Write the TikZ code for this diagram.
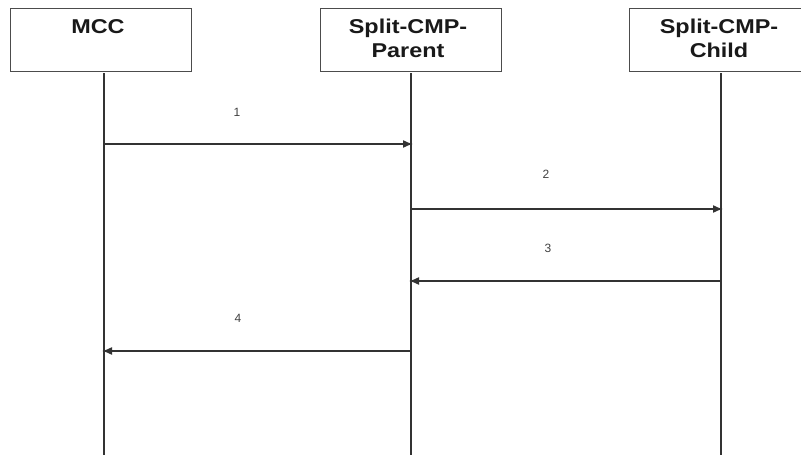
\documentclass[tikz,border=0pt]{standalone}
\usepackage{fontspec}
\usepackage{graphicx}
\setmainfont{Liberation Sans}
\usetikzlibrary{arrows.meta}
\newcommand{\widetext}[1]{\scalebox{1.17}[1]{#1}}
\begin{document}
\begin{tikzpicture}[x=1pt,y=-1pt,
  actorbox/.style={draw=black!70,line width=1.3pt,minimum width=181pt,minimum height=63pt,anchor=north west,inner sep=0pt},
  actortext/.style={font=\bfseries\fontsize{20}{22}\selectfont,text=black!90,align=center,anchor=base,inner sep=0pt},
  lifeline/.style={draw=black!80,line width=1.8pt},
  msg/.style={draw=black!80,line width=1.5pt,-{Latex[length=10pt,width=8pt]}},
  msglabel/.style={font=\fontsize{12}{13}\selectfont,text=black!75}]
\useasboundingbox (0,0) rectangle (801,455);
\node[actorbox] (mccbox) at (10,8) {};
\node[actorbox] (parbox) at (320,8) {};
\node[actorbox] (chbox) at (629,8) {};
\node[actortext] (mcct) at (98,34) {\widetext{MCC}};
\node[actortext] (part) at (408,34) {\widetext{Split-CMP-}};
\node[actortext] (part2) at (408,57) {\widetext{Parent}};
\node[actortext] (cht) at (719,34) {\widetext{Split-CMP-}};
\node[actortext] (cht2) at (719,57) {\widetext{Child}};
\coordinate (mtop) at (104,73);
\coordinate (mbot) at (104,455);
\coordinate (ptop) at (411,73);
\coordinate (pbot) at (411,455);
\coordinate (ctop) at (721,73);
\coordinate (cbot) at (721,455);
\draw[lifeline] (mtop) -- (mbot);
\draw[lifeline] (ptop) -- (pbot);
\draw[lifeline] (ctop) -- (cbot);
\coordinate (m1s) at (104,144);
\coordinate (m1e) at (413,144);
\coordinate (m2s) at (411,209);
\coordinate (m2e) at (723,209);
\coordinate (m3s) at (721,281);
\coordinate (m3e) at (409,281);
\coordinate (m4s) at (411,351);
\coordinate (m4e) at (102,351);
\draw[msg] (m1s) -- (m1e);
\draw[msg] (m2s) -- (m2e);
\draw[msg] (m3s) -- (m3e);
\draw[msg] (m4s) -- (m4e);
\node[msglabel] (l1) at (237,112) {1};
\node[msglabel] (l2) at (546,174) {2};
\node[msglabel] (l3) at (548,248) {3};
\node[msglabel] (l4) at (238,318) {4};
\end{tikzpicture}
\end{document}
